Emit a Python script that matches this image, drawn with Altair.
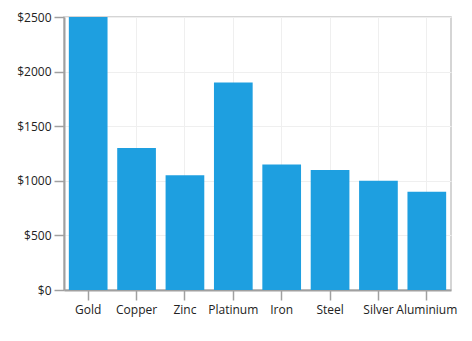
import altair as alt
import pandas as pd

metals = ["Gold", "Copper", "Zinc", "Platinum", "Iron", "Steel", "Silver", "Aluminium"]
prices = [2500, 1300, 1050, 1900, 1150, 1100, 1000, 900]

df = pd.DataFrame({"metal": metals, "price": prices})

chart = alt.Chart(df).mark_bar(color="#1E9FE0").encode(
    x=alt.X("metal:N", sort=metals, title=None,
            scale=alt.Scale(paddingInner=0.2, paddingOuter=0.1),
            axis=alt.Axis(labelAngle=0, tickSize=10, tickColor="#A0A0A0", tickWidth=1.5,
                          domainColor="#A0A0A0", domainWidth=2, labelPadding=4,
                          grid=True, gridColor="#EFEFEF", labelFontSize=12,
                          labelColor="#222222", labelFont="Open Sans")),
    y=alt.Y("price:Q", title=None,
            scale=alt.Scale(domain=[0, 2500], nice=False),
            axis=alt.Axis(values=[0, 500, 1000, 1500, 2000, 2500], format="$d",
                          tickSize=10, tickColor="#A0A0A0", tickWidth=1.5,
                          domainColor="#A0A0A0", domainWidth=2, labelPadding=3,
                          grid=True, gridColor="#EFEFEF", labelFontSize=12,
                          labelColor="#222222", labelFont="Open Sans")),
).properties(
    width=387, height=273,
    autosize=alt.AutoSizeParams(type="none"),
    padding={"left": 64, "top": 17, "right": 21, "bottom": 51},
).configure_view(stroke="#C8C8C8", strokeWidth=1.5)

chart.save("out.html", embed_options={"renderer": "svg", "actions": False})
